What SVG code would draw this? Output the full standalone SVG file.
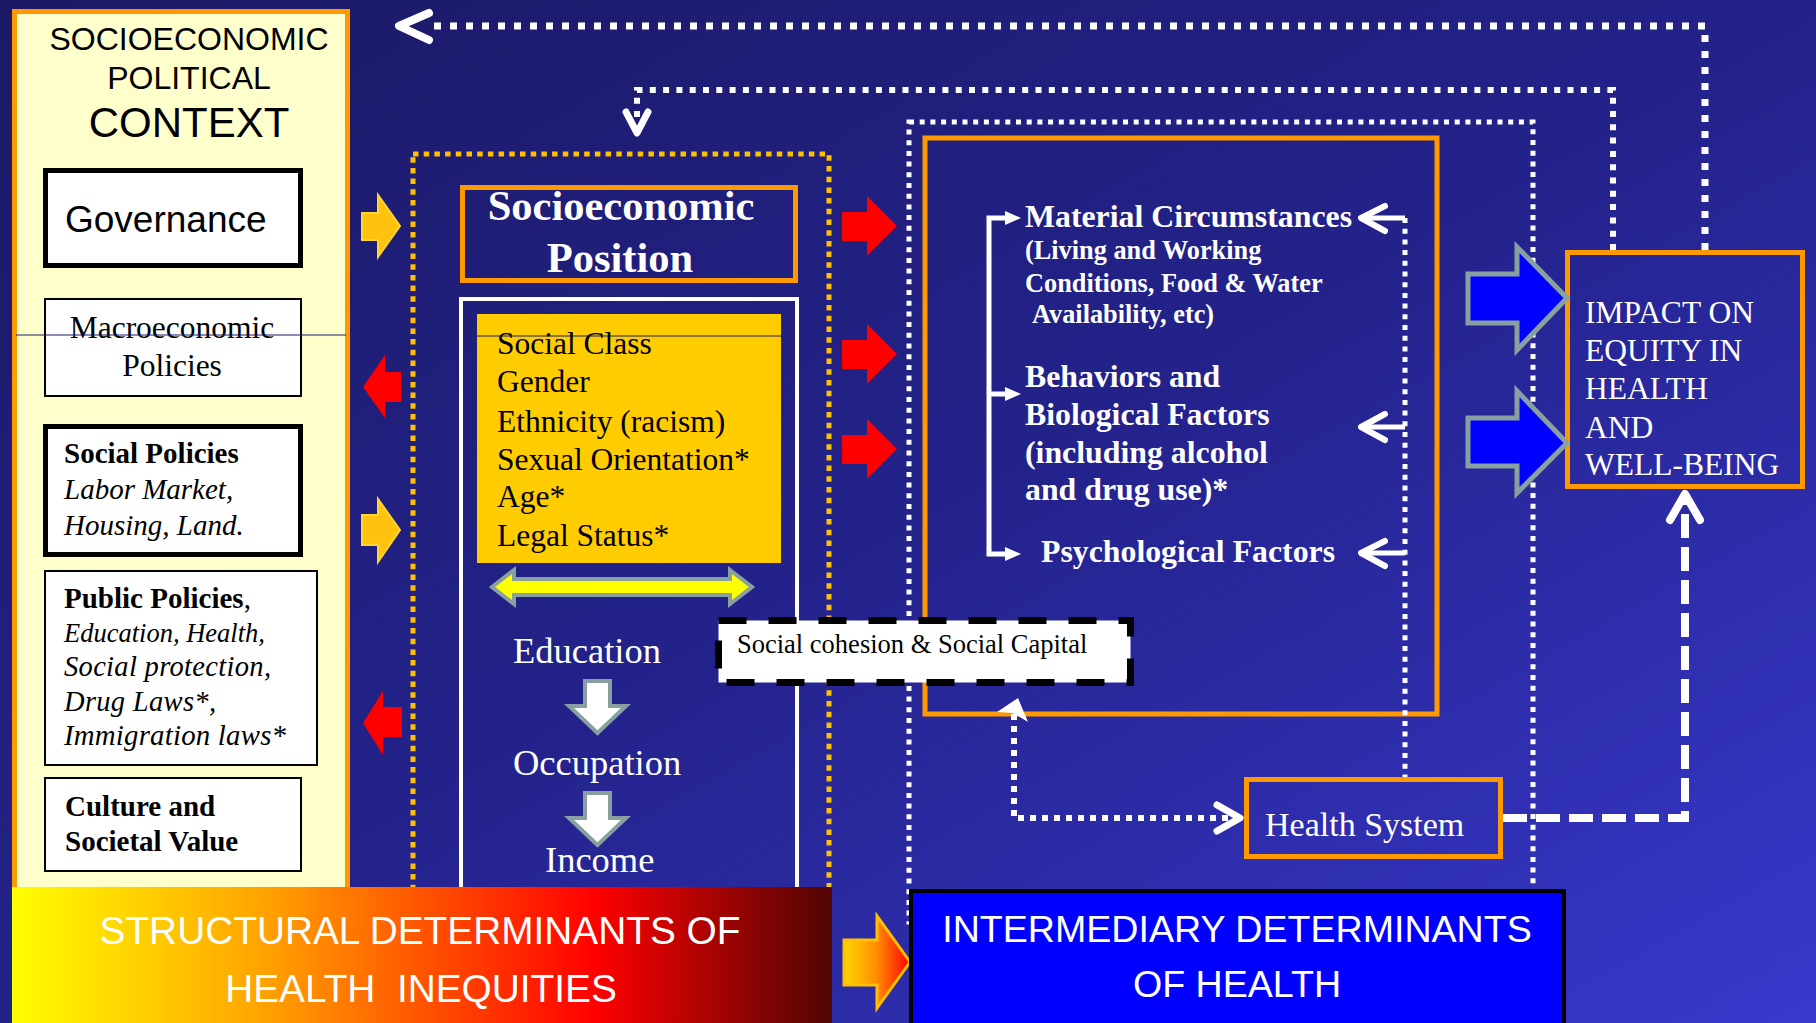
<svg xmlns="http://www.w3.org/2000/svg" width="1816" height="1023" viewBox="0 0 1816 1023">
<defs>
<linearGradient id="bg" x1="0" y1="0" x2="1" y2="1">
<stop offset="0" stop-color="#1b1963"/>
<stop offset="0.5" stop-color="#23228a"/>
<stop offset="1" stop-color="#3838cc"/>
</linearGradient>
<linearGradient id="gStruct" x1="0" y1="0" x2="1" y2="0">
<stop offset="0" stop-color="#FFFF00"/>
<stop offset="0.3" stop-color="#FFA500"/>
<stop offset="0.71" stop-color="#FF0000"/>
<stop offset="1" stop-color="#500505"/>
</linearGradient>
<linearGradient id="gArrow" x1="0" y1="0" x2="1" y2="0">
<stop offset="0" stop-color="#FFD700"/>
<stop offset="0.5" stop-color="#FF8C00"/>
<stop offset="1" stop-color="#FF0000"/>
</linearGradient>
<style>
.sans{font-family:"Liberation Sans",Arial,sans-serif}
.serif{font-family:"Liberation Serif","Times New Roman",serif}
.w{fill:#fff}
.k{fill:#000}
.b{font-weight:bold}
.i{font-style:italic}
.thick{fill:#fff;stroke:#000;stroke-width:5}
.thin{fill:#fff;stroke:#000;stroke-width:2}
.orng{fill:none;stroke:#FF9900;stroke-width:5}
.yarr{fill:#FFC20E;stroke:#FFD530;stroke-width:2}
.rarr{fill:#FF0000}
.barr{fill:#0000FF;stroke:#88A0A0;stroke-width:5}
.darr{fill:#fff;stroke:#88A0A0;stroke-width:4}
.chev{fill:none;stroke:#fff;stroke-linecap:round;stroke-linejoin:round}
</style>
</defs>
<rect width="1816" height="1023" fill="url(#bg)"/>

<g id="context">
<rect x="14.5" y="11.5" width="333" height="890" fill="#FFFFCC" stroke="#FF9900" stroke-width="5"/>
<text class="sans" x="189" y="50" font-size="32" text-anchor="middle">SOCIOECONOMIC</text>
<text class="sans" x="189" y="89" font-size="32" text-anchor="middle">POLITICAL</text>
<text class="sans" x="189" y="137" font-size="42" text-anchor="middle">CONTEXT</text>
</g>
<g id="governance">
<rect class="thick" x="45.5" y="170.5" width="255" height="95"/>
<text class="sans" x="65" y="232" font-size="37">Governance</text>
</g>
<g id="macro">
<rect class="thin" x="45" y="299" width="256" height="97"/>
<text class="serif" x="172" y="338" font-size="31.5" text-anchor="middle">Macroeconomic</text>
<text class="serif" x="172" y="376" font-size="31.5" text-anchor="middle">Policies</text>
<line x1="16" y1="335" x2="346" y2="335" stroke="#1d1b6b" stroke-width="1.2"/>
</g>
<g id="social-policies">
<rect class="thick" x="45.5" y="426.5" width="255" height="128"/>
<text class="serif b" x="64" y="463" font-size="29">Social Policies</text>
<text class="serif i" x="64" y="499" font-size="29">Labor Market,</text>
<text class="serif i" x="64" y="535" font-size="29">Housing, Land.</text>
</g>
<g id="public-policies">
<rect class="thin" x="45" y="571" width="272" height="194"/>
<text class="serif" x="64" y="608" font-size="29"><tspan class="b">Public Policies</tspan>,</text>
<text class="serif i" x="64" y="642" font-size="26.5">Education, Health,</text>
<text class="serif i" x="64" y="676" font-size="28.5" textLength="207" lengthAdjust="spacing">Social protection,</text>
<text class="serif i" x="64" y="711" font-size="28.5" textLength="152" lengthAdjust="spacing">Drug Laws*,</text>
<text class="serif i" x="64" y="745" font-size="28.8" textLength="222" lengthAdjust="spacing">Immigration laws*</text>
</g>
<g id="culture">
<rect class="thin" x="45" y="778" width="256" height="93"/>
<text class="serif b" x="65" y="816" font-size="29">Culture and</text>
<text class="serif b" x="65" y="851" font-size="29">Societal Value</text>
</g>

<g id="sep">
<rect x="413" y="154" width="416" height="760" fill="none" stroke="#FFC000" stroke-width="5" stroke-dasharray="5.5 5.2"/>
<rect class="orng" x="462.5" y="187.5" width="333" height="93"/>
<text class="serif b w" x="621" y="220" font-size="42.5" text-anchor="middle">Socioeconomic</text>
<text class="serif b w" x="620" y="272" font-size="42.5" text-anchor="middle">Position</text>
<rect x="461" y="299" width="336" height="620" fill="none" stroke="#fff" stroke-width="4"/>
<rect x="477" y="314" width="304" height="249" fill="#FFCC00"/>
<line x1="477" y1="336" x2="781" y2="336" stroke="#1d1b6b" stroke-width="1.2"/>
<text class="serif k" font-size="31.5">
<tspan x="497" y="354">Social Class</tspan>
<tspan x="497" y="392">Gender</tspan>
<tspan x="497" y="432">Ethnicity (racism)</tspan>
<tspan x="497" y="470">Sexual Orientation*</tspan>
<tspan x="497" y="507">Age*</tspan>
<tspan x="497" y="546">Legal Status*</tspan>
</text>
<polygon points="492,587 514,570 514,579 730,579 730,570 752,587 730,604 730,595 514,595 514,604" fill="#FFFF00" stroke="#88A0A0" stroke-width="4"/>
<text class="serif w" x="513" y="663" font-size="36.5">Education</text>
<polygon class="darr" points="585,681 610,681 610,706 626,706 597.5,733 569,706 585,706"/>
<text class="serif w" x="513" y="775" font-size="36.5">Occupation</text>
<polygon class="darr" points="585,793 610,793 610,818 626,818 597.5,845 569,818 585,818"/>
<text class="serif w" x="545" y="872" font-size="36.5">Income</text>
</g>

<g id="arrows-left">
<polygon class="yarr" points="362,213 378,213 378,195 400,226 378,257 378,240 362,240"/>
<polygon class="yarr" points="362,515 378,515 378,499 400,530 378,562 378,545 362,545"/>
<polygon class="rarr" points="401,372 385,372 385,355 363,387 385,418 385,402 401,402"/>
<polygon class="rarr" points="402,707 383,707 383,691 363,723 383,755 383,737 402,737"/>
<polygon class="rarr" points="842,212 867,212 867,196 897,226 867,256 867,241 842,241"/>
<polygon class="rarr" points="842,340 867,340 867,324 897,354 867,384 867,369 842,369"/>
<polygon class="rarr" points="842,435 867,435 867,419 897,449 867,479 867,464 842,464"/>
</g>

<g id="intermediary">
<rect x="909" y="122" width="624" height="800" fill="none" stroke="#fff" stroke-width="5" stroke-dasharray="5 5.7"/>
<rect class="orng" x="925" y="138" width="512" height="576"/>
<text class="serif b w" x="1025" y="227" font-size="31.8">Material Circumstances</text>
<text class="serif b w" font-size="26.3">
<tspan x="1025" y="259">(Living and Working</tspan>
<tspan x="1025" y="292">Conditions, Food &amp; Water</tspan>
<tspan x="1032" y="323">Availability, etc)</tspan>
</text>
<text class="serif b w" font-size="31.8">
<tspan x="1025" y="387">Behaviors and</tspan>
<tspan x="1025" y="425">Biological Factors</tspan>
<tspan x="1025" y="463">(including alcohol</tspan>
<tspan x="1025" y="500">and drug use)*</tspan>
</text>
<text class="serif b w" x="1041" y="562" font-size="31.8">Psychological Factors</text>
<path d="M1007,218 H989 V554 H1007 M989,394 H1007" fill="none" stroke="#fff" stroke-width="5"/>
<polygon class="w" points="1005,211 1021,218 1005,225"/>
<polygon class="w" points="1005,387 1021,394 1005,401"/>
<polygon class="w" points="1005,547 1021,554 1005,561"/>
</g>

<g id="impact">
<rect class="orng" x="1567.5" y="252.5" width="235" height="234"/>
<text class="serif w" font-size="31.5">
<tspan x="1585" y="323">IMPACT ON</tspan>
<tspan x="1585" y="361">EQUITY IN</tspan>
<tspan x="1585" y="399">HEALTH</tspan>
<tspan x="1585" y="438">AND</tspan>
<tspan x="1585" y="475">WELL-BEING</tspan>
</text>
</g>

<g id="health-system">
<rect class="orng" x="1246.5" y="779.5" width="254" height="77"/>
<text class="serif w" x="1265" y="836" font-size="34">Health System</text>
</g>

<g id="connectors">
<path d="M1705,250 V26 H432" fill="none" stroke="#fff" stroke-width="7" stroke-dasharray="7 9"/>
<path class="chev" d="M429,13 L399,26 L429,40" stroke-width="8"/>
<path d="M1613,250 V90 H637 V121" fill="none" stroke="#fff" stroke-width="6" stroke-dasharray="6 7.3"/>
<path class="chev" d="M626,112 L637,133 L648,112" stroke-width="7"/>
<path d="M1405,218 V777" fill="none" stroke="#fff" stroke-width="5" stroke-dasharray="5 5.7"/>
<path d="M1405,218 H1364 M1405,427 H1364 M1405,553 H1364" fill="none" stroke="#fff" stroke-width="5"/>
<path class="chev" d="M1385,206 L1361,218 L1385,231" stroke-width="6"/>
<path class="chev" d="M1385,414 L1361,427 L1385,440" stroke-width="6"/>
<path class="chev" d="M1385,541 L1361,553 L1385,566" stroke-width="6"/>
<path d="M1014,714 V818 H1234" fill="none" stroke="#fff" stroke-width="6" stroke-dasharray="6 6"/>
<polygon class="w" points="1018,698 1028,722 1013,713 997,712"/>
<path class="chev" d="M1217,805 L1240,818 L1217,831" stroke-width="7"/>
<path d="M1503,818 H1685 V500" fill="none" stroke="#fff" stroke-width="8" stroke-dasharray="24 9"/>
<path class="chev" d="M1670,520 L1685,494 L1700,520" stroke-width="8"/>
<polygon class="barr" points="1468,274 1517,274 1517,247 1567,298 1517,350 1517,323 1468,323"/>
<polygon class="barr" points="1468,418 1517,418 1517,391 1567,443 1517,493 1517,466 1468,466"/>
</g>

<g id="social-cohesion">
<rect x="718.5" y="620.5" width="412" height="62" fill="#fff" stroke="#000" stroke-width="7" stroke-dasharray="28 22"/>
<text class="serif k" x="737" y="653" font-size="26.5">Social cohesion &amp; Social Capital</text>
</g>

<g id="structural">
<rect x="12" y="887" width="820" height="136" fill="url(#gStruct)"/>
<text class="sans w" x="420" y="944" font-size="38.8" text-anchor="middle">STRUCTURAL DETERMINANTS OF</text>
<text class="sans w" x="421" y="1002" font-size="38.8" text-anchor="middle" xml:space="preserve">HEALTH  INEQUITIES</text>
</g>
<g id="arrow-bottom">
<polygon points="844,940 877,940 877,916 910,962 877,1008 877,985 844,985" fill="url(#gArrow)" stroke="#FFC000" stroke-width="3"/>
</g>
<g id="intermediary-label">
<rect x="911" y="891" width="653" height="140" fill="#0000FF" stroke="#000" stroke-width="4"/>
<text class="sans w" x="1237" y="942" font-size="37.6" text-anchor="middle">INTERMEDIARY DETERMINANTS</text>
<text class="sans w" x="1237" y="997" font-size="37.6" text-anchor="middle">OF HEALTH</text>
</g>
</svg>
